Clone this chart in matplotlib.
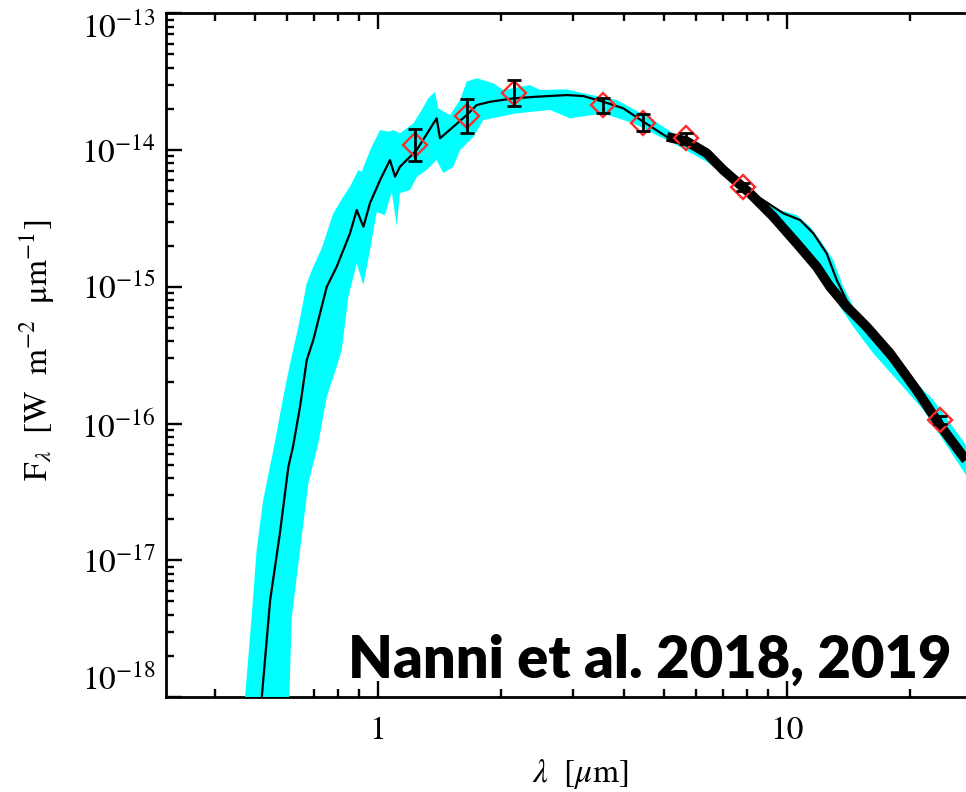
import numpy as np
import matplotlib
matplotlib.use("Agg")
import matplotlib.pyplot as plt
from matplotlib.ticker import NullFormatter, LogLocator

plt.rcParams["mathtext.fontset"] = "stix"
plt.rcParams["font.family"] = ["STIXGeneral", "DejaVu Serif"]

# ---------------- data ----------------
# photometric points (wavelength in micron, log10 flux in W m^-2 micron^-1)
phot_wave = [1.235, 1.65, 2.15, 3.55, 4.46, 5.69, 7.84, 23.7]
phot_logflux = [-13.963, -13.750, -13.581, -13.671, -13.800, -13.914, -14.268, -15.975]
phot_err_dex = [0.116, 0.125, 0.095, 0.055, 0.060, 0.040, 0.030, 0.030]

# best-fitting model spectrum
model_wave = [0.517, 0.521, 0.546, 0.577, 0.605, 0.621, 0.646, 0.671, 0.696, 0.751,
              0.794, 0.856, 0.889, 0.923, 0.958, 1.014, 1.072, 1.103, 1.134, 1.200,
              1.246, 1.306, 1.394, 1.421, 1.531, 1.651, 1.747, 1.883, 2.147, 2.449,
              2.900, 3.180, 3.564, 3.988, 4.464, 5.090, 6.380, 7.270, 8.610, 9.820,
              10.79, 11.62, 12.53, 13.26, 14.20, 15.90, 18.20, 20.97, 27.46]
model_logflux = [-18.27, -18.00, -17.292, -16.80, -16.317, -16.17, -15.878, -15.536, -15.39, -15.00,
                 -14.854, -14.609, -14.439, -14.561, -14.388, -14.219, -14.073, -14.195, -14.122, -14.049,
                 -14.000, -13.903, -13.768, -13.914, -13.830, -13.744, -13.671, -13.647, -13.622, -13.610,
                 -13.598, -13.605, -13.647, -13.695, -13.793, -13.903, -14.024, -14.168, -14.351, -14.463,
                 -14.512, -14.609, -14.756, -14.951, -15.134, -15.353, -15.558, -15.814, -16.231]

# envelope of the acceptable models: upper edge
band_up_wave = [0.466, 0.492, 0.506, 0.525, 0.556, 0.588, 0.611, 0.640, 0.671, 0.696,
                0.730, 0.779, 0.824, 0.856, 0.897, 0.914, 0.967, 1.014, 1.062, 1.092,
                1.134, 1.223, 1.282, 1.330, 1.381, 1.407, 1.503, 1.591, 1.651, 1.747,
                1.919, 2.029, 2.358, 2.495, 2.900, 3.184, 3.842, 4.634, 5.284, 6.141,
                7.271, 8.610, 9.636, 10.585, 11.41, 12.07, 13.01, 13.76, 14.84, 16.29,
                18.24, 20.80, 22.85, 27.46]
band_up_logflux = [-18.27, -17.414, -16.926, -16.560, -16.194, -15.805, -15.560, -15.293, -14.975, -14.854,
                   -14.719, -14.463, -14.342, -14.268, -14.146, -14.159, -13.976, -13.854, -13.866, -13.854,
                   -13.878, -13.805, -13.707, -13.622, -13.574, -13.695, -13.744, -13.634, -13.500, -13.475,
                   -13.512, -13.561, -13.525, -13.561, -13.556, -13.585, -13.634, -13.766, -13.878, -13.976,
                   -14.159, -14.366, -14.439, -14.476, -14.561, -14.658, -14.805, -15.000, -15.195, -15.317,
                   -15.512, -15.707, -15.829, -16.158]

# envelope of the acceptable models: lower edge
band_lo_wave = [0.604, 0.617, 0.646, 0.677, 0.716, 0.751, 0.794, 0.817, 0.848, 0.889,
                0.923, 0.958, 0.995, 1.042, 1.083, 1.114, 1.134, 1.200, 1.246, 1.318,
                1.394, 1.447, 1.531, 1.591, 1.714, 1.813, 2.188, 2.639, 2.954, 3.563,
                4.219, 4.722, 5.284, 6.378, 7.137, 8.137, 9.279, 10.385, 11.623, 13.012,
                14.56, 16.29, 18.94, 21.60, 27.46]
band_lo_logflux = [-18.27, -17.414, -16.926, -16.438, -16.146, -15.805, -15.585, -15.463, -15.073, -14.829,
                   -14.988, -14.732, -14.454, -14.476, -14.307, -14.556, -14.315, -14.293, -14.198, -14.146,
                   -14.073, -14.168, -14.124, -14.000, -13.905, -13.781, -13.732, -13.707, -13.768, -13.732,
                   -13.805, -13.878, -13.951, -14.086, -14.195, -14.342, -14.488, -14.658, -14.854, -15.073,
                   -15.293, -15.487, -15.707, -15.902, -16.377]

# mid-infrared spectrum
spec_wave = [5.10, 5.68, 6.38, 7.00, 8.14, 9.28, 10.59, 11.85, 12.77, 14.03,
             15.70, 17.90, 20.80, 23.70, 27.46]
spec_logflux = [-13.904, -13.934, -14.024, -14.146, -14.317, -14.488, -14.683, -14.854, -15.000, -15.146,
                -15.293, -15.487, -15.756, -16.012, -16.268]

x_tick_values = [1, 10]
x_tick_labels = ["1", "10"]
y_tick_exponents = [-18, -17, -16, -15, -14, -13]

# ---------------- figure ----------------
W, H = 966, 792
fig = plt.figure(figsize=(W / 100, H / 100), dpi=100)
left_px, right_px, top_px, bottom_px = 165.6, 1010.0, 13.3, 697.0
ax = fig.add_axes([left_px / W, 1 - bottom_px / H,
                   (right_px - left_px) / W, (bottom_px - top_px) / H])
ax.set_xscale("log")
ax.set_yscale("log")
ax.set_xlim(0.3031, 35.17)
ax.set_ylim(1e-18, 1e-13)

# model envelope
poly_x = np.concatenate([band_up_wave, band_lo_wave[::-1]])
poly_y = 10.0 ** np.concatenate([band_up_logflux, band_lo_logflux[::-1]])
ax.fill(poly_x, poly_y, color="#00ffff", lw=0, zorder=3)

# best-fit model
ax.plot(model_wave, 10.0 ** np.array(model_logflux), color="black", lw=1.6, zorder=4)

# spectrum
ax.plot(spec_wave, 10.0 ** np.array(spec_logflux), color="black", lw=7,
        solid_capstyle="butt", zorder=5)

# photometry
pf = np.array(phot_logflux)
pe = np.array(phot_err_dex)
F = 10.0 ** pf
yerr = [F - 10.0 ** (pf - pe), 10.0 ** (pf + pe) - F]
ax.plot(phot_wave, F, linestyle="none", marker="D", ms=12, mfc="none",
        mec="#ff2a2a", mew=1.7, zorder=6)
ax.errorbar(phot_wave, F, yerr=yerr, fmt="none", ecolor="black", elinewidth=2.0,
            capsize=5.0, capthick=2.0, zorder=7)

# axes styling
for s in ax.spines.values():
    s.set_linewidth(2.0)
    s.set_zorder(2.5)
ax.tick_params(which="both", direction="in", top=True, right=True, width=1.7, colors="black")
ax.tick_params(which="major", length=11.5)
ax.tick_params(which="minor", length=5.5)
ax.tick_params(axis="x", which="major", pad=14, labelsize=24)
ax.tick_params(axis="y", which="major", pad=7, labelsize=24)

ax.set_xticks(x_tick_values)
ax.set_xticklabels(x_tick_labels)
ax.xaxis.set_minor_locator(LogLocator(base=10, subs=np.arange(2, 10)))
ax.xaxis.set_minor_formatter(NullFormatter())

ax.set_yticks([10.0 ** e for e in y_tick_exponents])
ax.set_yticklabels([r"$10^{%d}$" % e for e in y_tick_exponents])
ax.yaxis.set_minor_locator(LogLocator(base=10, subs=np.arange(2, 10)))
ax.yaxis.set_minor_formatter(NullFormatter())
ylabs = ax.get_yticklabels()
ylabs[0].set_va("bottom")
ylabs[-1].set_va("top")

ax.set_xlabel(r"$\lambda\ \ [\mu\mathrm{m}]$", fontsize=24)
ax.xaxis.set_label_coords((580 - left_px) / (right_px - left_px), -(774 - bottom_px) / (bottom_px - top_px))
ax.xaxis.label.set_va("center")
ax.set_ylabel(r"$\mathrm{F}_\lambda\ \ [\mathrm{W\ \ m^{-2}\ \ \mu m^{-1}}]$", fontsize=24)
ax.yaxis.set_label_coords((37 - left_px) / (right_px - left_px), 1 - (350 - top_px) / (bottom_px - top_px))
ax.yaxis.label.set_va("center")

# reference credit
txt = fig.text(348 / W, 1 - 678 / H, "Nanni et al. 2018, 2019", family="Lato",
               fontweight="heavy", fontsize=40, ha="left", va="baseline", color="black", zorder=10)
fig.canvas.draw()
wpx = txt.get_window_extent().width
txt.set_fontsize(40 * 603 / wpx)

fig.savefig("out.png", dpi=100)
